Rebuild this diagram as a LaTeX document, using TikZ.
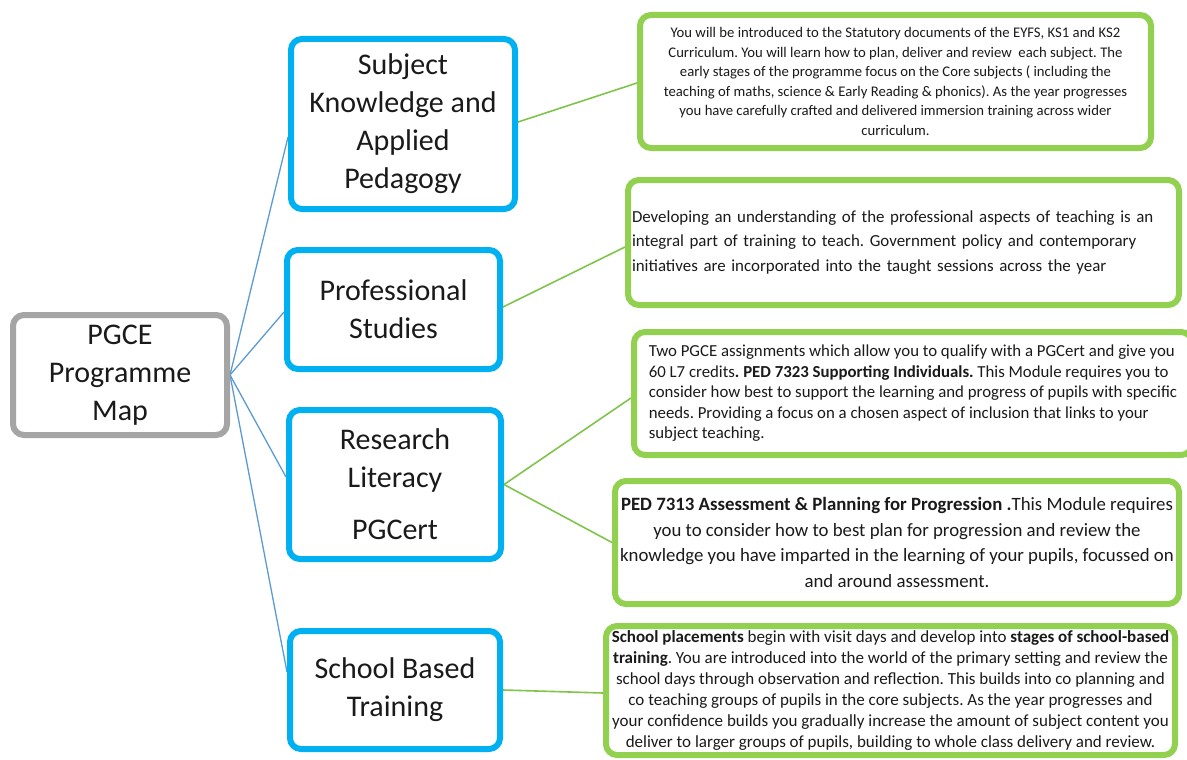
\documentclass[tikz,border=0pt]{standalone}
\usepackage{fontspec}
\setmainfont{Carlito}
\usetikzlibrary{calc,backgrounds}
\definecolor{cblue}{HTML}{00B0F0}
\definecolor{cgreen}{HTML}{92D050}
\definecolor{cgray}{HTML}{A5A5A5}
\definecolor{lblue}{HTML}{5B9BD5}
\definecolor{lgreen}{HTML}{80C44C}
\definecolor{ctext}{HTML}{1A1A1A}
\frenchspacing
\tikzset{
  base/.style={fill=white, rounded corners=11pt, inner sep=0pt, text=ctext},
  headbox/.style={base, draw=cblue, line width=6pt, align=center, font=\fontsize{30}{38}\selectfont},
  rootbox/.style={headbox, draw=cgray},
  infobox/.style={base, draw=cgreen, line width=6pt},
  hline/.style={draw=lblue, line width=1.3pt},
  gline/.style={draw=lgreen, line width=1.6pt},
}
\begin{document}
\begin{tikzpicture}[x=1pt,y=-1pt]
\clip (0,0) rectangle (1187,760);
\useasboundingbox (0,0) rectangle (1187,760);

\node[rootbox, minimum width=214pt, minimum height=120pt] (pgce) at (120,375) {PGCE\\Programme\\Map};
\node[headbox, minimum width=224pt, minimum height=170pt] (subj) at (403,124) {Subject\\Knowledge and\\Applied\\Pedagogy};
\node[headbox, minimum width=213pt, minimum height=119pt] (prof) at (393.5,309.5) {Professional\\Studies};
\node[headbox, minimum width=212pt, minimum height=149pt] (res) at (395,484.5) {Research\\Literacy\\[14pt]PGCert};
\node[headbox, minimum width=210pt, minimum height=118pt] (school) at (395,690) {School Based\\Training};

\node[infobox, minimum width=511pt, minimum height=133pt, align=center, font=\fontsize{14.7}{19.5}\selectfont] (g1) at (895.5,81.5)
{You will be introduced to the Statutory documents of the EYFS, KS1 and KS2\\
Curriculum. You will learn how to plan, deliver and review\ \ each subject. The\\
early stages of the programme focus on the Core subjects ( including the\\
teaching of maths, science \& Early Reading \& phonics). As the year progresses\\
you have carefully crafted and delivered immersion training across wider\\
curriculum.};

\node[infobox, minimum width=551pt, minimum height=125pt, align=left, text width=543pt, font=\fontsize{16.9}{24.5}\selectfont] (g2) at (903.5,242.5)
{Developing an understanding of the professional aspects of teaching is an\\
integral part of training to teach. Government policy and contemporary\\
initiatives are incorporated into the taught sessions across the year};

\node[infobox, minimum width=558pt, minimum height=123pt, align=left, font=\fontsize{16.8}{20.5}\selectfont] (g3) at (913,393.5)
{Two PGCE assignments which allow you to qualify with a PGCert and give you\\
60 L7 credits\textbf{. PED 7323 Supporting Individuals.} This Module requires you to\\
consider how best to support the learning and progress of pupils with specific\\
needs. Providing a focus on a chosen aspect of inclusion that links to your\\
subject teaching.};

\node[infobox, minimum width=564pt, minimum height=123pt, align=center, font=\fontsize{18.8}{25.5}\selectfont] (g4) at (897,542.5)
{\textbf{PED 7313 Assessment \& Planning for Progression .}This Module requires\\
you to consider how to best plan for progression and review the\\
knowledge you have imparted in the learning of your pupils, focussed on\\
and around assessment.};

\node[infobox, minimum width=569pt, minimum height=129pt, align=center, font=\fontsize{17}{21}\selectfont] (g5) at (890.5,690.5)
{\textbf{School placements} begin with visit days and develop into \textbf{stages of school-based}\\
\textbf{training}. You are introduced into the world of the primary setting and review the\\
school days through observation and reflection. This builds into co planning and\\
co teaching groups of pupils in the core subjects. As the year progresses and\\
your confidence builds you gradually increase the amount of subject content you\\
deliver to larger groups of pupils, building to whole class delivery and review.};

\begin{pgfonlayer}{background}
\fill[white] (0,0) rectangle (1187,760);
\draw[hline] (pgce.east) -- ($(subj.west)+(0,13)$);
\draw[hline] (pgce.east) -- ($(prof.west)+(0,2.5)$);
\draw[hline] (pgce.east) -- ($(res.west)+(0,-7.5)$);
\draw[hline] (pgce.east) -- ($(school.west)+(0,-18)$);
\draw[gline] ($(subj.east)+(0,-2)$) -- ($(g1.west)+(0,1.5)$);
\draw[gline] ($(prof.east)+(0,-2.5)$) -- ($(g2.west)+(0,4.5)$);
\draw[gline] (res.east) -- ($(g3.west)+(0,4.5)$);
\draw[gline] (res.east) -- (g4.west);
\draw[gline] (school.east) -- ($(g5.west)+(0,2.5)$);
\end{pgfonlayer}
\end{tikzpicture}
\end{document}
